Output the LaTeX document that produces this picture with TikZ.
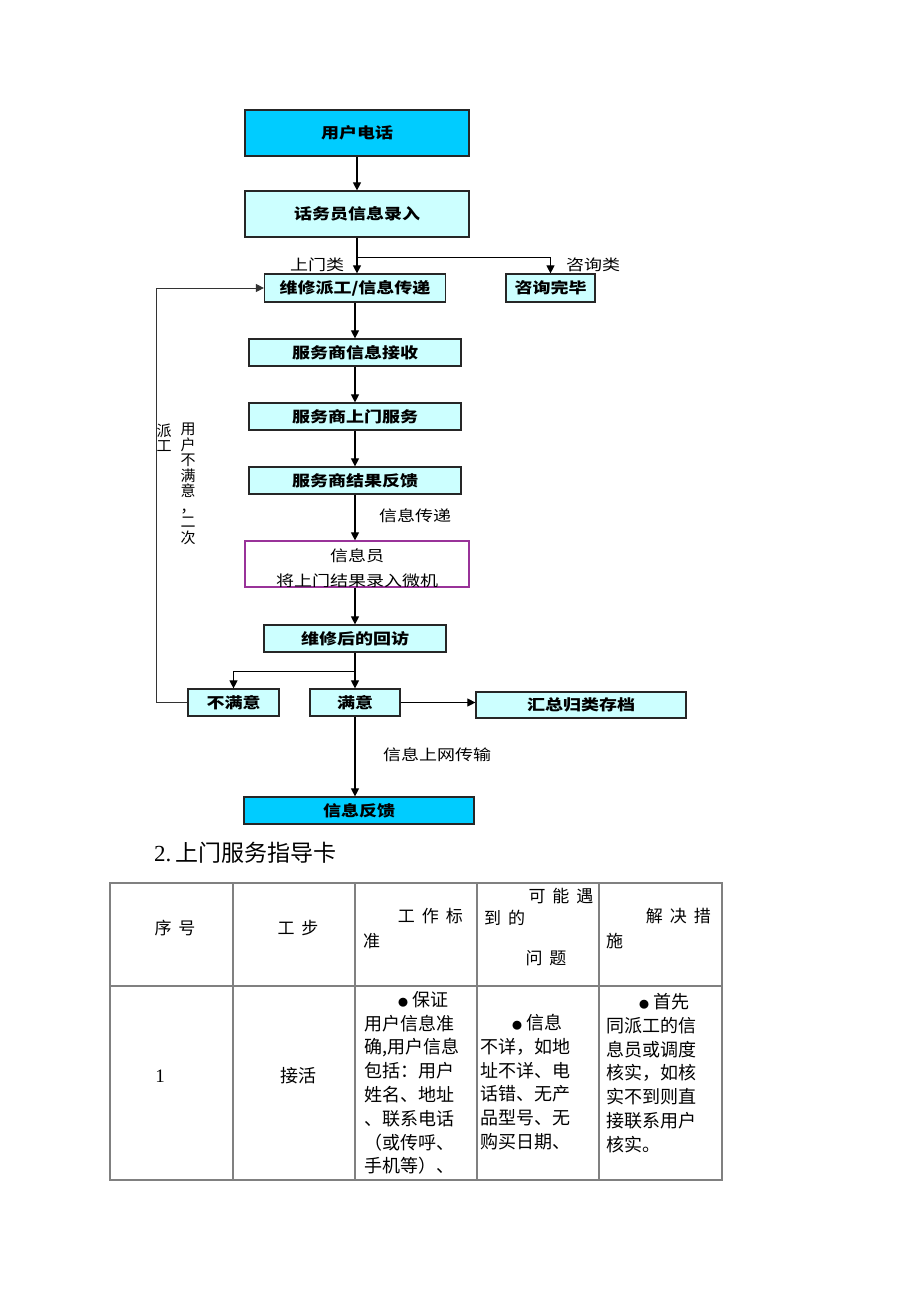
\documentclass[tikz,border=0pt]{standalone}
\usepackage{fontspec}
\setmainfont{Liberation Serif}
\newfontfamily\cjk{Noto Sans CJK SC}
\newfontfamily\cjkwide[FakeStretch=1.2]{Noto Sans CJK SC}
\usetikzlibrary{arrows.meta}
\definecolor{deepcyan}{RGB}{0,204,255}
\definecolor{palecyan}{RGB}{204,255,255}
\definecolor{boxpurple}{RGB}{153,51,153}
\definecolor{gridgray}{RGB}{128,128,128}
\newcommand{\dotmark}{{\fontsize{10}{10}\selectfont ●}\hspace{4pt}}

\begin{document}
\begin{tikzpicture}[x=1pt,y=-1pt,
  flowbox/.style={draw=black!85, line width=1.2pt, fill=palecyan, inner sep=0pt,
    font=\cjkwide\bfseries\fontsize{15}{18}\selectfont},
  endbox/.style={flowbox, fill=deepcyan},
  arr/.style={-{Triangle[length=8pt,width=8pt]}, line width=1.1pt},
  link/.style={line width=1.1pt},
  lbl/.style={inner sep=0pt, font=\cjkwide\fontsize{15}{18}\selectfont},
  vlbl/.style={inner sep=0pt, align=center, font=\cjk\fontsize{15}{15.5}\selectfont},
  head/.style={inner sep=0pt, font=\cjk\fontsize{17}{20}\selectfont},
  cell/.style={inner sep=0pt, align=left, font=\cjk\fontsize{18}{23.8}\selectfont},
  grid/.style={draw=gridgray, line width=1.4pt}]
\useasboundingbox (0,0) rectangle (920,1302);
% Table layout
\def\tabtop{883}; \def\tabmid{986}; \def\tabbot{1180};
\def\hgap{\hspace{7pt}}

% Flow boxes
\node[endbox, minimum width=224, minimum height=46] (call) at (357,133) {用户电话};
\node[flowbox, minimum width=224, minimum height=46] (entry) at (357,214) {话务员信息录入};
\node[flowbox, minimum width=181, minimum height=28] (dispatch) at (355,288) {维修派工/信息传递};
\node[flowbox, minimum width=89, minimum height=28] (consult) at (550.5,288) {咨询完毕};
\node[flowbox, minimum width=212, minimum height=27] (receive) at (355,352.5) {服务商信息接收};
\node[flowbox, minimum width=212, minimum height=27] (visit) at (355,416.5) {服务商上门服务};
\node[flowbox, minimum width=212, minimum height=27] (result) at (355,480.5) {服务商结果反馈};
\node[flowbox, fill=white, draw=boxpurple, minimum width=224, minimum height=46] (clerk) at (357,564) {};
\begin{scope}
\clip ([shift={(1,-1)}]clerk.south west) rectangle ([shift={(-1,1)}]clerk.north east);
\node[lbl] (clerkA) at (357,556) {信息员};
\node[lbl] (clerkB) at (357,581) {将上门结果录入微机};
\end{scope}
\node[flowbox, minimum width=182, minimum height=27] (revisit) at (355,638.5) {维修后的回访};
\node[flowbox, minimum width=91, minimum height=27] (unsat) at (233.5,702.5) {不满意};
\node[flowbox, minimum width=90, minimum height=27] (sat) at (355,702.5) {满意};
\node[flowbox, minimum width=210, minimum height=26] (archive) at (581,705) {汇总归类存档};
\node[endbox, minimum width=230, minimum height=27] (reply) at (359,810.5) {信息反馈};

% Labels
\node[lbl] (doorlbl) at (317,265) {上门类};
\node[lbl] (asklbl) at (593,265) {咨询类};
\node[lbl] (passlbl) at (415,516) {信息传递};
\node[lbl] (netlbl) at (437,755) {信息上网传输};
\node[vlbl] (whylbl) at (188,484) {用\\户\\不\\满\\意\\，\\二\\次};
\node[vlbl] (againlbl) at (164,437.5) {派\\工};

% Connectors
\draw[arr] (call) -- (entry);
\draw[link] (entry.south) -- ++(0,20) coordinate (split);
\draw[arr] (split) -- (split |- dispatch.north);
\draw[arr] (split) -| (consult.north);
\draw[arr] (dispatch) -- (receive);
\draw[arr] (receive) -- (visit);
\draw[arr] (visit) -- (result);
\draw[arr] (result.south) -- (result.south |- clerk.north);
\draw[arr] (clerk.south -| revisit.north) -- (revisit.north);
\draw[link] (revisit.south) -- ++(0,19) coordinate (fork);
\draw[arr] (fork) -| (unsat.north);
\draw[arr] (fork) -- (sat.north);
\draw[arr] (sat.east) -- (sat.east -| archive.west);
\draw[arr] (sat.south) -- (sat.south |- reply.north);
\draw[arr, line width=1pt, draw=black!80] (unsat.west) -- ++(-31,0) |- (dispatch.west);

% Title
\node[anchor=west, inner sep=0pt, font=\fontsize{23}{27}\selectfont] (title) at (154,853) {2.\,{\cjk 上门服务指导卡}};

% Grid
\draw[grid] (110,\tabtop) rectangle (722,\tabbot);
\foreach \x in {233,355,477,599} \draw[grid] (\x,\tabtop) -- (\x,\tabbot);
\draw[grid] (110,\tabmid) -- (722,\tabmid);

% Header row
\node[head] (hnum) at (175,928) {序\hgap 号};
\node[head] (hstep) at (298,928) {工\hgap 步};
\node[head, anchor=east] (hstdA) at (463,916) {工\hgap 作\hgap 标};
\node[head, anchor=west] (hstdB) at (363,941) {准};
\node[head] (hprobA) at (561,896) {可\hgap 能\hgap 遇};
\node[head, anchor=west] (hprobB) at (484,918) {到\hgap 的};
\node[head] (hprobC) at (546,958) {问\hgap 题};
\node[head, anchor=east] (hfixA) at (711,916) {解\hgap 决\hgap 措};
\node[head, anchor=west] (hfixB) at (606,941) {施};

% Row 1
\node[inner sep=0pt, font=\fontsize{19}{23}\selectfont] (rnum) at (160,1076) {1};
\node[cell] (rstep) at (298,1076) {接活};
\node[cell, anchor=north west] (rstd) at (364,991) {\hspace*{34pt}\dotmark 保证\\用户信息准\\确,用户信息\\包括：用户\\姓名、地址\\、联系电话\\（或传呼、\\手机等）、};
\node[cell, anchor=north west] (rprob) at (480,1014) {\hspace*{32pt}\dotmark 信息\\不详，如地\\址不详、电\\话错、无产\\品型号、无\\购买日期、};
\node[cell, anchor=north west] (rfix) at (606,993) {\hspace*{33pt}\dotmark 首先\\同派工的信\\息员或调度\\核实，如核\\实不到则直\\接联系用户\\核实。};
\end{tikzpicture}
\end{document}
